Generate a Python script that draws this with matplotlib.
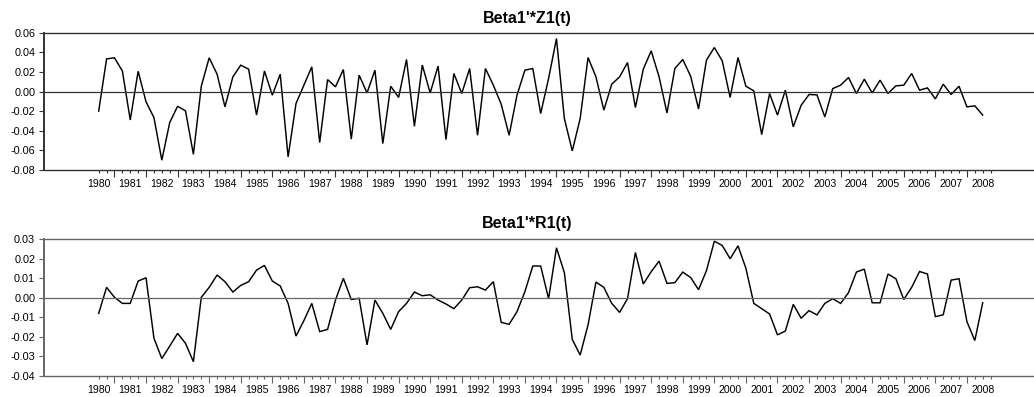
import numpy as np
import matplotlib
matplotlib.use('Agg')
import matplotlib.pyplot as plt

plt.rcParams['font.family'] = ['Liberation Sans', 'DejaVu Sans']

# 季度数据 1980Q1 - 2008Q1
start_year = 1980
years = list(range(1980, 2009))

z1 = [
    -0.020, 0.0333, 0.0344, 0.021, -0.029, 0.0207, -0.0105, -0.0265,
    -0.070, -0.0316, -0.015, -0.0197, -0.064, 0.0054, 0.0344, 0.0177,
    -0.0156, 0.015, 0.0269, 0.0228, -0.024, 0.021, -0.0037, 0.0177,
    -0.0667, -0.0122, 0.0065, 0.0252, -0.052, 0.0122, 0.0048, 0.0225,
    -0.0485, 0.0167, -0.0014, 0.0218, -0.053, 0.0054, -0.006, 0.0327,
    -0.0354, 0.027, -0.0014, 0.026, -0.049, 0.0184, -0.002, 0.0235,
    -0.0446, 0.0235, 0.0065, -0.013, -0.0446, -0.0037, 0.0218, 0.0235,
    -0.0224, 0.0133, 0.054, -0.0276, -0.0605, -0.0276, 0.0347, 0.015,
    -0.019, 0.0075, 0.015, 0.0296, -0.0163, 0.0228, 0.0415, 0.015,
    -0.0218, 0.0235, 0.0327, 0.0156, -0.0178, 0.032, 0.0449, 0.0313,
    -0.006, 0.0347, 0.0054, 0.0007, -0.0439, -0.002, -0.024, 0.0014,
    -0.036, -0.014, -0.003, -0.0034, -0.0259, 0.003, 0.0065, 0.0143,
    -0.002, 0.0126, -0.0014, 0.0116, -0.002, 0.0058, 0.0065, 0.0184,
    0.0014, 0.0037, -0.0075, 0.0075, -0.003, 0.0054, -0.0156, -0.0146,
    -0.024,
]

r1 = [
    -0.008, 0.0053, 0.0002, -0.0029, -0.0029, 0.0085, 0.0102, -0.0207,
    -0.0311, -0.0247, -0.0182, -0.0233, -0.0327, 0.0002, 0.0053, 0.0116,
    0.0082, 0.0029, 0.0063, 0.0082, 0.0141, 0.0165, 0.0085, 0.006,
    -0.0029, -0.0196, -0.0117, -0.0029, -0.0173, -0.0162, -0.0012, 0.0099,
    -0.0009, -0.0003, -0.0241, -0.0012, -0.008, -0.0162, -0.0071, -0.0029,
    0.0029, 0.001, 0.0015, -0.0012, -0.0032, -0.0056, -0.0012, 0.0051,
    0.0056, 0.0039, 0.0082, -0.0126, -0.0136, -0.0071, 0.0031, 0.0162,
    0.0162, -0.0005, 0.0255, 0.0128, -0.0213, -0.0293, -0.0139, 0.008,
    0.0053, -0.0029, -0.0075, -0.0005, 0.0231, 0.007, 0.0133, 0.0187,
    0.0073, 0.0077, 0.0131, 0.0103, 0.0041, 0.0138, 0.0289, 0.0267,
    0.0199, 0.0265, 0.015, -0.0029, -0.0056, -0.0083, -0.019, -0.017,
    -0.0034, -0.0105, -0.0066, -0.0088, -0.0029, -0.0005, -0.0029, 0.0026,
    0.0131, 0.0146, -0.0026, -0.0026, 0.0121, 0.0097, -0.0009, 0.0053,
    0.0134, 0.0121, -0.0097, -0.0087, 0.009, 0.0097, -0.0122, -0.0219,
    -0.0026,
]

panels = [
    ("Beta1'*Z1(t)", z1, (-0.08, 0.06), np.arange(-0.08, 0.061, 0.02), '#333333'),
    ("Beta1'*R1(t)", r1, (-0.04, 0.03), np.arange(-0.04, 0.031, 0.01), '#666666'),
]

W, H = 1034, 397
fig = plt.figure(figsize=(W / 100, H / 100), dpi=100)

# 轴位置 (像素)
ax_left = 44.3
boxes = [(32.7, 170.0), (239.0, 376.0)]
title_y = [18.3, 223.3]

for k, (title, vals, ylim, yticks, frame_col) in enumerate(panels):
    top, bot = boxes[k]
    ax = fig.add_axes([ax_left / W, 1 - bot / H, 1 - ax_left / W, (bot - top) / H])
    x = np.arange(len(vals))
    ax.plot(x, vals, color='black', lw=1.05, solid_joinstyle='miter')
    ax.axhline(0, color=frame_col, lw=0.9)

    ax.set_xlim(-6.89, 118.5)
    ax.set_ylim(*ylim)
    ax.set_yticks(yticks)
    ax.set_yticklabels([f'{v:.2f}' for v in yticks])

    # 长刻度在年中, 短刻度每季度一个
    n_q = len(vals) + 1
    ax.set_xticks(np.arange(2, n_q, 4))
    ax.set_xticks(np.arange(0, n_q), minor=True)
    ax.tick_params(axis='x', which='major', length=5, width=0.8, labelbottom=False,
                   color=frame_col)
    ax.tick_params(axis='x', which='minor', length=2.5, width=0.8, color=frame_col)
    ax.tick_params(axis='y', length=3.6, width=0.8, pad=3, labelsize=7.8,
                   color=frame_col)

    sec = ax.secondary_xaxis('bottom')
    sec.set_xticks([4 * (y - start_year) for y in years])
    sec.set_xticklabels([str(y) for y in years])
    sec.tick_params(length=0, pad=6.3, labelsize=7.6)
    sec.spines['bottom'].set_visible(False)

    ax.spines['right'].set_visible(False)
    ax.spines['left'].set_linewidth(1.4)
    for s in ('left', 'top', 'bottom'):
        ax.spines[s].set_color(frame_col)
    ax.spines['top'].set_linewidth(1.0)
    ax.spines['bottom'].set_linewidth(1.0)

    fig.text(527 / W, 1 - title_y[k] / H, title, ha='center', va='center',
             fontsize=11.5, fontweight='bold')

fig.savefig('out.png', dpi=100)
